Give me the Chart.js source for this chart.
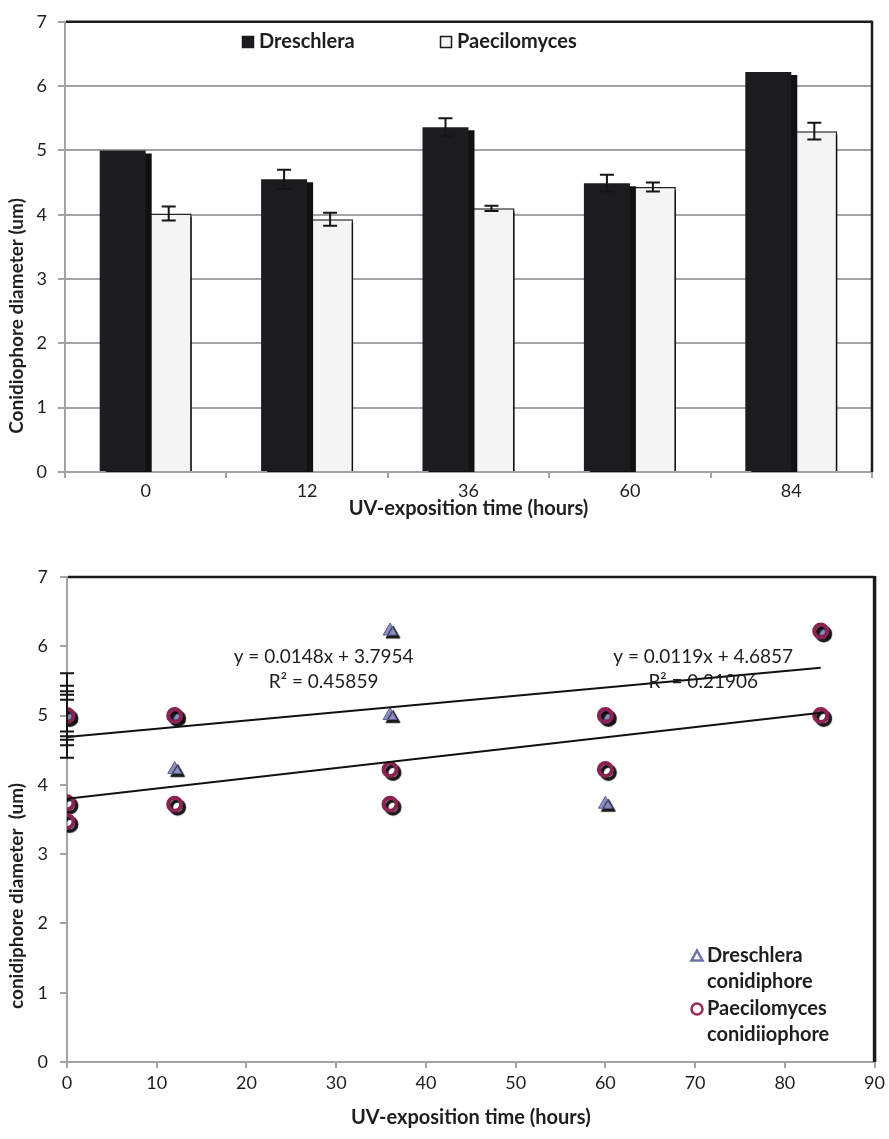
<!DOCTYPE html>
<html>
<head>
<meta charset="utf-8">
<script src="https://cdn.jsdelivr.net/npm/chart.js@4.4.0/dist/chart.umd.min.js"></script>
<style>
  html, body { margin: 0; padding: 0; background: #ffffff; }
  #wrap { position: relative; width: 889px; height: 1139px; overflow: hidden; }
  #c1 { position: absolute; left: 0; top: 0; }
  #c2 { position: absolute; left: 0; top: 530px; }
</style>
</head>
<body>
<div id="wrap">
  <canvas id="c1" width="889" height="530"></canvas>
  <canvas id="c2" width="889" height="609"></canvas>
</div>
<script>
// ---------------- DATA ----------------
// Top chart (bars with error bars)
const barCategories = ['0', '12', '36', '60', '84'];
const barYTicks = [0, 1, 2, 3, 4, 5, 6, 7];
const dreschleraMeans = [5.00, 4.55, 5.36, 4.49, 6.22];
const dreschleraErrors = [0.00, 0.15, 0.14, 0.13, 0.00];
const paecilomycesMeans = [4.02, 3.93, 4.10, 4.43, 5.30];
const paecilomycesErrors = [0.11, 0.10, 0.04, 0.07, 0.13];

// Bottom chart (scatter with trend lines)
const scatterXTicks = [0, 10, 20, 30, 40, 50, 60, 70, 80, 90];
const scatterYTicks = [0, 1, 2, 3, 4, 5, 6, 7];
const dreschleraHours = [0, 12, 12, 36, 36, 60, 60, 84];
const dreschleraDiam  = [5.00, 5.00, 4.22, 6.22, 5.00, 5.00, 3.72, 6.22];
const paecilomycesHours = [0, 0, 0, 12, 12, 36, 36, 60, 60, 84, 84];
const paecilomycesDiam  = [5.00, 3.74, 3.47, 5.00, 3.72, 4.22, 3.72, 5.00, 4.22, 6.22, 5.00];
const zeroHourCenter = 5.00;
const zeroHourErrors = [0.61, 0.43, 0.35, 0.30, 0.23];
const trendDreschleraX = [0, 84];
const trendDreschleraY = [4.69, 5.69];
const trendPaecilomycesX = [0, 84];
const trendPaecilomycesY = [3.80, 5.04];
const trendLabelDreschlera = ['y = 0.0119x + 4.6857', 'R² = 0.21906'];
const trendLabelPaecilomyces = ['y = 0.0148x + 3.7954', 'R² = 0.45859'];

// ---------------- STYLE ----------------
const FONT = 'Lato, "Open Sans", "DejaVu Sans", sans-serif';
const TEXT = '#1e1e1e';
const AXIS_GRAY = '#a3a3a3';
const DARK = '#1b1b1d';

const shadowPlugin = {
  id: 'shadowFx',
  beforeDatasetDraw(chart, args) {
    const ds = chart.data.datasets[args.index];
    if (!ds.shadowFx) return;
    const ctx = chart.ctx;
    ctx.save();
    ctx.shadowColor = ds.shadowFx.color;
    ctx.shadowOffsetX = ds.shadowFx.dx;
    ctx.shadowOffsetY = ds.shadowFx.dy;
    ctx.shadowBlur = ds.shadowFx.blur;
  },
  afterDatasetDraw(chart, args) {
    const ds = chart.data.datasets[args.index];
    if (!ds.shadowFx) return;
    chart.ctx.restore();
  }
};

const frameBorderPlugin = {
  id: 'frameBorder',
  afterDraw(chart, args, opts) {
    const { ctx, chartArea: a } = chart;
    ctx.save();
    ctx.strokeStyle = DARK;
    ctx.lineWidth = opts.topWidth;
    ctx.beginPath();
    ctx.moveTo(a.left + 1, a.top);
    ctx.lineTo(a.right, a.top);
    ctx.stroke();
    ctx.lineWidth = opts.rightWidth;
    ctx.beginPath();
    ctx.moveTo(a.right, a.top - 1);
    ctx.lineTo(a.right, a.bottom);
    ctx.stroke();
    ctx.restore();
  }
};

const yTitlePlugin = {
  id: 'yTitle',
  afterDraw(chart, args, opts) {
    const ctx = chart.ctx;
    ctx.save();
    ctx.translate(opts.x, opts.y);
    ctx.rotate(-Math.PI / 2);
    ctx.font = 'bold ' + opts.size + 'px ' + FONT;
    ctx.fillStyle = TEXT;
    ctx.textAlign = 'center';
    ctx.textBaseline = 'middle';
    ctx.fillText(opts.text, 0, 0);
    ctx.restore();
  }
};

const barErrorPlugin = {
  id: 'barErrors',
  afterDatasetsDraw(chart) {
    const ctx = chart.ctx;
    const yScale = chart.scales.y;
    chart.data.datasets.forEach((ds, i) => {
      const meta = chart.getDatasetMeta(i);
      meta.data.forEach((bar, j) => {
        const e = ds.errors[j];
        if (!e) return;
        const v = ds.data[j];
        const x = bar.x;
        const yt = yScale.getPixelForValue(v + e);
        const yb = yScale.getPixelForValue(v - e);
        ctx.save();
        ctx.strokeStyle = '#151515';
        ctx.lineWidth = 2;
        ctx.beginPath();
        ctx.moveTo(x, yt); ctx.lineTo(x, yb);
        ctx.moveTo(x - 7, yt); ctx.lineTo(x + 7, yt);
        ctx.moveTo(x - 7, yb); ctx.lineTo(x + 7, yb);
        ctx.stroke();
        ctx.restore();
      });
    });
  }
};

const barLegendPlugin = {
  id: 'barLegend',
  afterDraw(chart, args, opts) {
    const ctx = chart.ctx;
    ctx.save();
    ctx.font = 'bold 20px ' + FONT;
    ctx.textBaseline = 'middle';
    ctx.textAlign = 'left';
    chart.data.datasets.forEach((ds, i) => {
      const x = opts.xs[i], y = opts.y;
      ctx.fillStyle = ds.backgroundColor;
      ctx.fillRect(x, y - 6, 12, 12);
      ctx.strokeStyle = DARK;
      ctx.lineWidth = 1.5;
      ctx.strokeRect(x + 0.5, y - 5.5, 11, 11);
      ctx.fillStyle = TEXT;
      ctx.fillText(ds.label, x + 17, y);
    });
    ctx.restore();
  }
};

// ---------------- TOP CHART ----------------
new Chart(document.getElementById('c1'), {
  type: 'bar',
  data: {
    labels: barCategories,
    datasets: [
      {
        label: 'Dreschlera',
        data: dreschleraMeans,
        errors: dreschleraErrors,
        backgroundColor: '#1c1c1e',
        borderColor: '#1c1c1e',
        borderWidth: 0,
        shadowFx: { color: '#111111', dx: 6, dy: 3, blur: 0 }
      },
      {
        label: 'Paecilomyces',
        data: paecilomycesMeans,
        errors: paecilomycesErrors,
        backgroundColor: '#f4f4f4',
        borderColor: '#222222',
        borderWidth: 1.5,
        shadowFx: { color: '#111111', dx: 6, dy: 3, blur: 0 }
      }
    ]
  },
  options: {
    responsive: false,
    animation: false,
    devicePixelRatio: 1,
    datasets: { bar: { categoryPercentage: 0.57, barPercentage: 1.0 } },
    layout: { padding: { top: 10, right: 17, bottom: 0, left: 0 } },
    scales: {
      x: {
        grid: { display: true, drawOnChartArea: false, drawTicks: true, tickLength: 6, color: AXIS_GRAY, lineWidth: 2, offset: true },
        border: { display: true, color: AXIS_GRAY, width: 2 },
        ticks: { color: TEXT, font: { family: FONT, size: 18 }, padding: 2 },
        title: { display: true, text: 'UV-exposition time (hours)', color: TEXT,
                 font: { family: FONT, size: 20, weight: 'bold' }, padding: { top: 0, bottom: 9 } },
        afterFit: s => { s.height = 58; }
      },
      y: {
        min: 0, max: 7,
        afterBuildTicks: s => { s.ticks = barYTicks.map(v => ({ value: v })); },
        grid: { display: true, drawTicks: true, tickLength: 7, color: AXIS_GRAY, lineWidth: 2 },
        border: { display: true, color: AXIS_GRAY, width: 2 },
        ticks: { color: TEXT, font: { family: FONT, size: 18 }, padding: 11 },
        afterFit: s => { s.width = 65; }
      }
    },
    plugins: {
      legend: { display: false },
      tooltip: { enabled: false },
      frameBorder: { topWidth: 2.5, rightWidth: 2.5 },
      yTitle: { text: 'Conidiophore diameter (um)', x: 17, y: 316, size: 19 },
      barLegend: { xs: [242, 440], y: 42 }
    }
  },
  plugins: [shadowPlugin, barErrorPlugin, frameBorderPlugin, yTitlePlugin, barLegendPlugin]
});

// ---------------- BOTTOM CHART ----------------
const zeroErrorPlugin = {
  id: 'zeroErrors',
  afterDatasetsDraw(chart) {
    const ctx = chart.ctx;
    const xs = chart.scales.x, ys = chart.scales.y;
    const x = xs.getPixelForValue(0);
    const maxE = Math.max(...zeroHourErrors);
    ctx.save();
    ctx.strokeStyle = '#151515';
    ctx.lineWidth = 2;
    ctx.beginPath();
    ctx.moveTo(x, ys.getPixelForValue(zeroHourCenter + maxE));
    ctx.lineTo(x, ys.getPixelForValue(zeroHourCenter - maxE));
    zeroHourErrors.forEach(e => {
      [zeroHourCenter + e, zeroHourCenter - e].forEach(v => {
        const y = ys.getPixelForValue(v);
        ctx.moveTo(x - 7, y); ctx.lineTo(x + 7, y);
      });
    });
    ctx.stroke();
    ctx.restore();
  }
};

const trendLabelPlugin = {
  id: 'trendLabels',
  afterDatasetsDraw(chart, args, opts) {
    const ctx = chart.ctx;
    const xs = chart.scales.x, ys = chart.scales.y;
    ctx.save();
    ctx.font = '19px ' + FONT;
    ctx.fillStyle = TEXT;
    ctx.textAlign = 'center';
    ctx.textBaseline = 'middle';
    opts.items.forEach(it => {
      const x = xs.getPixelForValue(it.x);
      const y = ys.getPixelForValue(it.y);
      it.lines.forEach((t, k) => ctx.fillText(t, x, y + k * 25));
    });
    ctx.restore();
  }
};

const scatterLegendPlugin = {
  id: 'scatterLegend',
  afterDraw(chart, args, opts) {
    const ctx = chart.ctx;
    ctx.save();
    ctx.font = 'bold 20px ' + FONT;
    ctx.textBaseline = 'middle';
    ctx.textAlign = 'left';
    opts.items.forEach(it => {
      const ds = chart.data.datasets[it.index];
      const mx = opts.markerX, my = it.y;
      ctx.lineWidth = 2.5;
      ctx.strokeStyle = it.stroke;
      ctx.beginPath();
      if (ds.pointStyle === 'triangle') {
        ctx.moveTo(mx, my - 5.5);
        ctx.lineTo(mx + 5.5, my + 4.5);
        ctx.lineTo(mx - 5.5, my + 4.5);
        ctx.closePath();
      } else {
        ctx.arc(mx, my, 5.5, 0, Math.PI * 2);
      }
      ctx.stroke();
      ctx.fillStyle = TEXT;
      it.lines.forEach((t, k) => ctx.fillText(t, opts.textX, my + k * 26));
    });
    ctx.restore();
  }
};

const toPoints = (xs, ys) => xs.map((x, i) => ({ x: x, y: ys[i] }));

new Chart(document.getElementById('c2'), {
  type: 'scatter',
  data: {
    datasets: [
      {
        label: 'Dreschlera conidiphore',
        data: toPoints(dreschleraHours, dreschleraDiam),
        pointStyle: 'triangle',
        pointRadius: 8,
        backgroundColor: '#8d8fc2',
        borderColor: '#5d5f92',
        borderWidth: 1,
        order: 3,
        shadowFx: { color: 'rgba(10,10,10,0.95)', dx: 3, dy: 3, blur: 1 }
      },
      {
        label: 'Paecilomyces conidiiophore',
        data: toPoints(paecilomycesHours, paecilomycesDiam),
        pointStyle: 'circle',
        pointRadius: 6.5,
        backgroundColor: 'rgba(0,0,0,0)',
        borderColor: '#8a2352',
        borderWidth: 4,
        order: 2,
        shadowFx: { color: 'rgba(10,10,10,0.95)', dx: 3, dy: 3, blur: 1 }
      },
      {
        label: 'Linear (Dreschlera conidiphore)',
        data: toPoints(trendDreschleraX, trendDreschleraY),
        showLine: true,
        pointRadius: 0,
        borderColor: '#111111',
        borderWidth: 2,
        order: 1
      },
      {
        label: 'Linear (Paecilomyces conidiiophore)',
        data: toPoints(trendPaecilomycesX, trendPaecilomycesY),
        showLine: true,
        pointRadius: 0,
        borderColor: '#111111',
        borderWidth: 2,
        order: 1
      }
    ]
  },
  options: {
    responsive: false,
    animation: false,
    devicePixelRatio: 1,
    layout: { padding: { top: 47, right: 13, bottom: 0, left: 0 } },
    scales: {
      x: {
        type: 'linear', min: 0, max: 90,
        afterBuildTicks: s => { s.ticks = scatterXTicks.map(v => ({ value: v })); },
        grid: { display: true, drawOnChartArea: false, drawTicks: true, tickLength: 6, color: AXIS_GRAY, lineWidth: 2 },
        border: { display: true, color: AXIS_GRAY, width: 2 },
        ticks: { color: TEXT, font: { family: FONT, size: 18 }, padding: 4 },
        title: { display: true, text: 'UV-exposition time (hours)', color: TEXT,
                 font: { family: FONT, size: 20, weight: 'bold' }, padding: { top: 0, bottom: 9 } },
        afterFit: s => { s.height = 77; }
      },
      y: {
        type: 'linear', min: 0, max: 7,
        afterBuildTicks: s => { s.ticks = scatterYTicks.map(v => ({ value: v })); },
        grid: { display: true, drawOnChartArea: false, drawTicks: true, tickLength: 7, color: AXIS_GRAY, lineWidth: 2 },
        border: { display: true, color: AXIS_GRAY, width: 2 },
        ticks: { color: TEXT, font: { family: FONT, size: 18 }, padding: 12 },
        afterFit: s => { s.width = 67; }
      }
    },
    plugins: {
      legend: { display: false },
      tooltip: { enabled: false },
      frameBorder: { topWidth: 2.5, rightWidth: 3.5 },
      yTitle: { text: 'conidiphore diameter  (um)', x: 17, y: 366, size: 19 },
      trendLabels: {
        items: [
          { x: 28.6, y: 5.84, lines: trendLabelPaecilomyces },
          { x: 70.9, y: 5.84, lines: trendLabelDreschlera }
        ]
      },
      scatterLegend: {
        markerX: 697, textX: 707,
        items: [
          { index: 0, y: 426, stroke: '#6f70a8', lines: ['Dreschlera', 'conidiphore'] },
          { index: 1, y: 479, stroke: '#9a2a5c', lines: ['Paecilomyces', 'conidiiophore'] }
        ]
      }
    }
  },
  plugins: [shadowPlugin, zeroErrorPlugin, trendLabelPlugin, frameBorderPlugin, yTitlePlugin, scatterLegendPlugin]
});
</script>
</body>
</html>
